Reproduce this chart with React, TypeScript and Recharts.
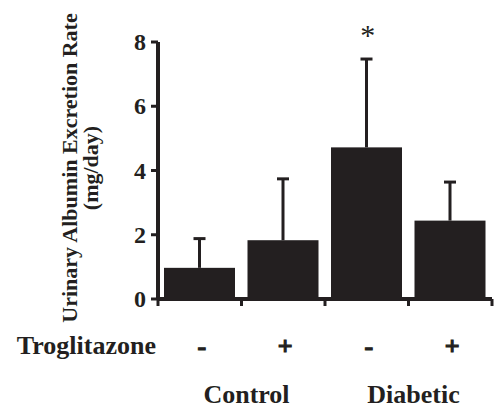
import { BarChart, Bar, XAxis, YAxis, ReferenceDot } from "recharts";

// Urinary albumin excretion, control vs diabetic, with/without troglitazone.
// Bars are means, whiskers are one-sided (upward) SEM.
const ids = ["c-", "c+", "d-", "d+"];
const treatments = ["-", "+", "-", "+"];
const groups = ["Control", "Control", "Diabetic", "Diabetic"];
const means = [0.97, 1.83, 4.72, 2.44];
const sems = [0.91, 1.91, 2.75, 1.2];
const marks = ["", "", "*", ""];
const yTicks = [0, 2, 4, 6, 8];
const rowLabel = "Troglitazone";

const INK = "#231f20";
const FONT = "'Liberation Serif', 'Times New Roman', serif";
const W = 495;
const H = 409;
const M = { top: 42, right: 3, bottom: 0, left: 98 };
const Y_W = 60;
const X_H = 110;
const BAND = (W - M.left - Y_W - M.right) / ids.length;

const data = ids.map((id, i) => ({
  id,
  treat: treatments[i],
  group: groups[i],
  mean: means[i],
  sem: sems[i],
  mark: marks[i],
}));

const txt = { fill: INK, fontFamily: FONT, fontWeight: 700 };

function XTick(props: any) {
  const { x, y, index } = props;
  const left = x - BAND / 2;
  const right = x + BAND / 2;
  return (
    <g>
      <line x1={left} x2={left} y1={y} y2={y + 7} stroke={INK} strokeWidth={3} />
      {index === ids.length - 1 && (
        <line x1={right} x2={right} y1={y} y2={y + 7} stroke={INK} strokeWidth={3} />
      )}
      <text x={x + 2} y={y + 56} textAnchor="middle" fontSize={26} stroke={INK} strokeWidth={1.2} {...txt}>
        {treatments[index]}
      </text>
      {index === 0 && (
        <text x={left - 2} y={y + 55} textAnchor="end" fontSize={26} {...txt}>
          {rowLabel}
        </text>
      )}
      {index % 2 === 1 && (
        <text x={left + 5} y={y + 104} textAnchor="middle" fontSize={26} {...txt}>
          {groups[index]}
        </text>
      )}
    </g>
  );
}

function YTick(props: any) {
  const { x, y, payload } = props;
  return (
    <text x={x} y={y} dy={8} textAnchor="end" fontSize={24} {...txt}>
      {payload.value}
    </text>
  );
}

function YLabel() {
  const cy = 168;
  return (
    <g>
      <text x={77} y={cy} transform={`rotate(-90, 77, ${cy})`} textAnchor="middle" fontSize={22} {...txt}>
        Urinary Albumin Excretion Rate
      </text>
      <text x={98} y={cy} transform={`rotate(-90, 98, ${cy})`} textAnchor="middle" fontSize={22} {...txt}>
        (mg/day)
      </text>
    </g>
  );
}

// bar plus upward whisker; pixels per unit taken from the bar's own scaled height
function BarWithWhisker(props: any) {
  const { x, y, width, height, payload } = props;
  const ppu = payload.mean ? height / payload.mean : 0;
  const top = y - payload.sem * ppu;
  const cx = x + width / 2;
  return (
    <g>
      <rect x={x} y={y} width={width} height={height} fill={INK} />
      <line x1={cx} x2={cx} y1={y} y2={top} stroke={INK} strokeWidth={3} />
      <line x1={cx - 6} x2={cx + 6} y1={top} y2={top} stroke={INK} strokeWidth={3} />
    </g>
  );
}

export default function App() {
  return (
    <div style={{ position: "absolute", left: 0, top: 0, background: "#fff" }}>
      <BarChart width={W} height={H} data={data} margin={M}>
        <XAxis
          dataKey="id"
          height={X_H}
          axisLine={{ stroke: INK, strokeWidth: 4 }}
          tickLine={false}
          tickSize={0}
          tickMargin={0}
          interval={0}
          tick={<XTick />}
        />
        <YAxis
          width={Y_W}
          domain={[0, 8]}
          ticks={yTicks}
          interval={0}
          axisLine={{ stroke: INK, strokeWidth: 4 }}
          tickLine={{ stroke: INK, strokeWidth: 3 }}
          tickSize={7}
          tickMargin={5}
          tick={<YTick />}
          label={<YLabel />}
        />
        <Bar dataKey="mean" fill={INK} barSize={71} shape={<BarWithWhisker />} isAnimationActive={false} />
        {data
          .filter((d) => d.mark)
          .map((d) => (
            <ReferenceDot
              key={d.id}
              x={d.id}
              y={d.mean + d.sem}
              r={0}
              fill="none"
              stroke="none"
              ifOverflow="visible"
              label={(p: any) => (
                <text
                  x={p.viewBox.x + 1}
                  y={p.viewBox.y - 14}
                  textAnchor="middle"
                  fill={INK}
                  fontFamily={FONT}
                  fontSize={30}
                >
                  {d.mark}
                </text>
              )}
            />
          ))}
      </BarChart>
    </div>
  );
}
